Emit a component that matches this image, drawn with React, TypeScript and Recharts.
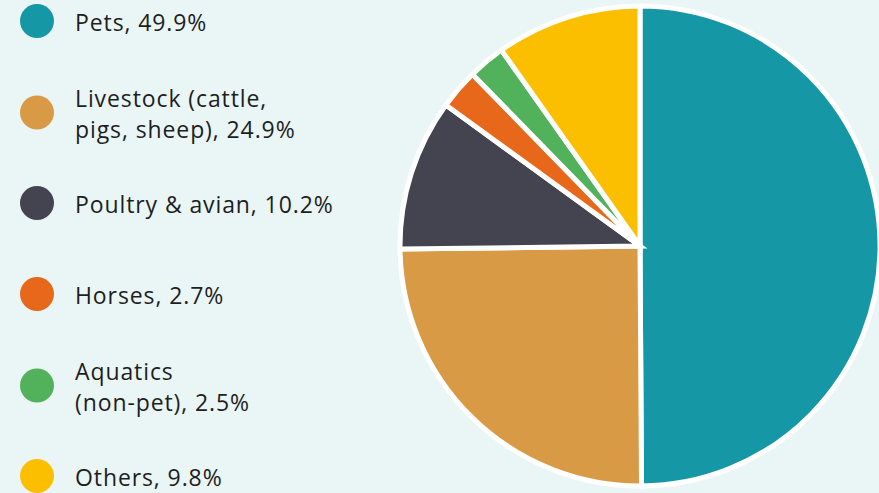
import { PieChart, Pie, Cell, Legend } from "recharts";

const CATEGORIES = [
  "Pets",
  "Livestock (cattle,\npigs, sheep)",
  "Poultry & avian",
  "Horses",
  "Aquatics\n(non-pet)",
  "Others",
];

const SHARES = [49.9, 24.9, 10.2, 2.7, 2.5, 9.8];

const COLORS = [
  "#1597a6",
  "#d99a46",
  "#43444f",
  "#e8681b",
  "#52b15b",
  "#fbbf00",
];

const data = CATEGORIES.map((name, i) => ({ name, value: SHARES[i] }));

function LegendList() {
  return (
    <div>
      {data.map((d, i) => (
        <div
          key={d.name}
          style={{
            position: "absolute",
            left: 20,
            top: 21 + i * 91,
            transform: "translateY(-50%)",
            display: "flex",
            alignItems: "center",
          }}
        >
          <span
            style={{
              width: 34,
              height: 34,
              borderRadius: "50%",
              background: COLORS[i],
              flexShrink: 0,
            }}
          />
          <span
            style={{
              marginLeft: 21,
              whiteSpace: "pre-line",
              fontSize: 23,
              letterSpacing: 0.9,
              lineHeight: "31px",
              color: "#1e1e1e",
              fontFamily: "'Open Sans', sans-serif",
              paddingTop: 3,
            }}
          >
            {`${d.name}, ${d.value}%`}
          </span>
        </div>
      ))}
    </div>
  );
}

export default function App() {
  return (
    <div
      style={{
        position: "fixed",
        left: 0,
        top: 0,
        width: 879,
        height: 493,
        background: "#eaf6f6",
        overflow: "hidden",
      }}
    >
      <PieChart width={879} height={493} margin={{ top: 0, right: 0, bottom: 0, left: 0 }}>
        <Pie
          data={data}
          dataKey="value"
          nameKey="name"
          cx={640}
          cy={246}
          outerRadius={240}
          startAngle={90}
          endAngle={-270}
          stroke="#ffffff"
          strokeWidth={5}
          isAnimationActive={false}
        >
          {data.map((_, index) => (
            <Cell key={`cell-${index}`} fill={COLORS[index]} />
          ))}
        </Pie>
        <Legend
          content={() => <LegendList />}
          wrapperStyle={{ position: "absolute", left: 0, top: 0, width: 360, height: 493 }}
        />
      </PieChart>
    </div>
  );
}
